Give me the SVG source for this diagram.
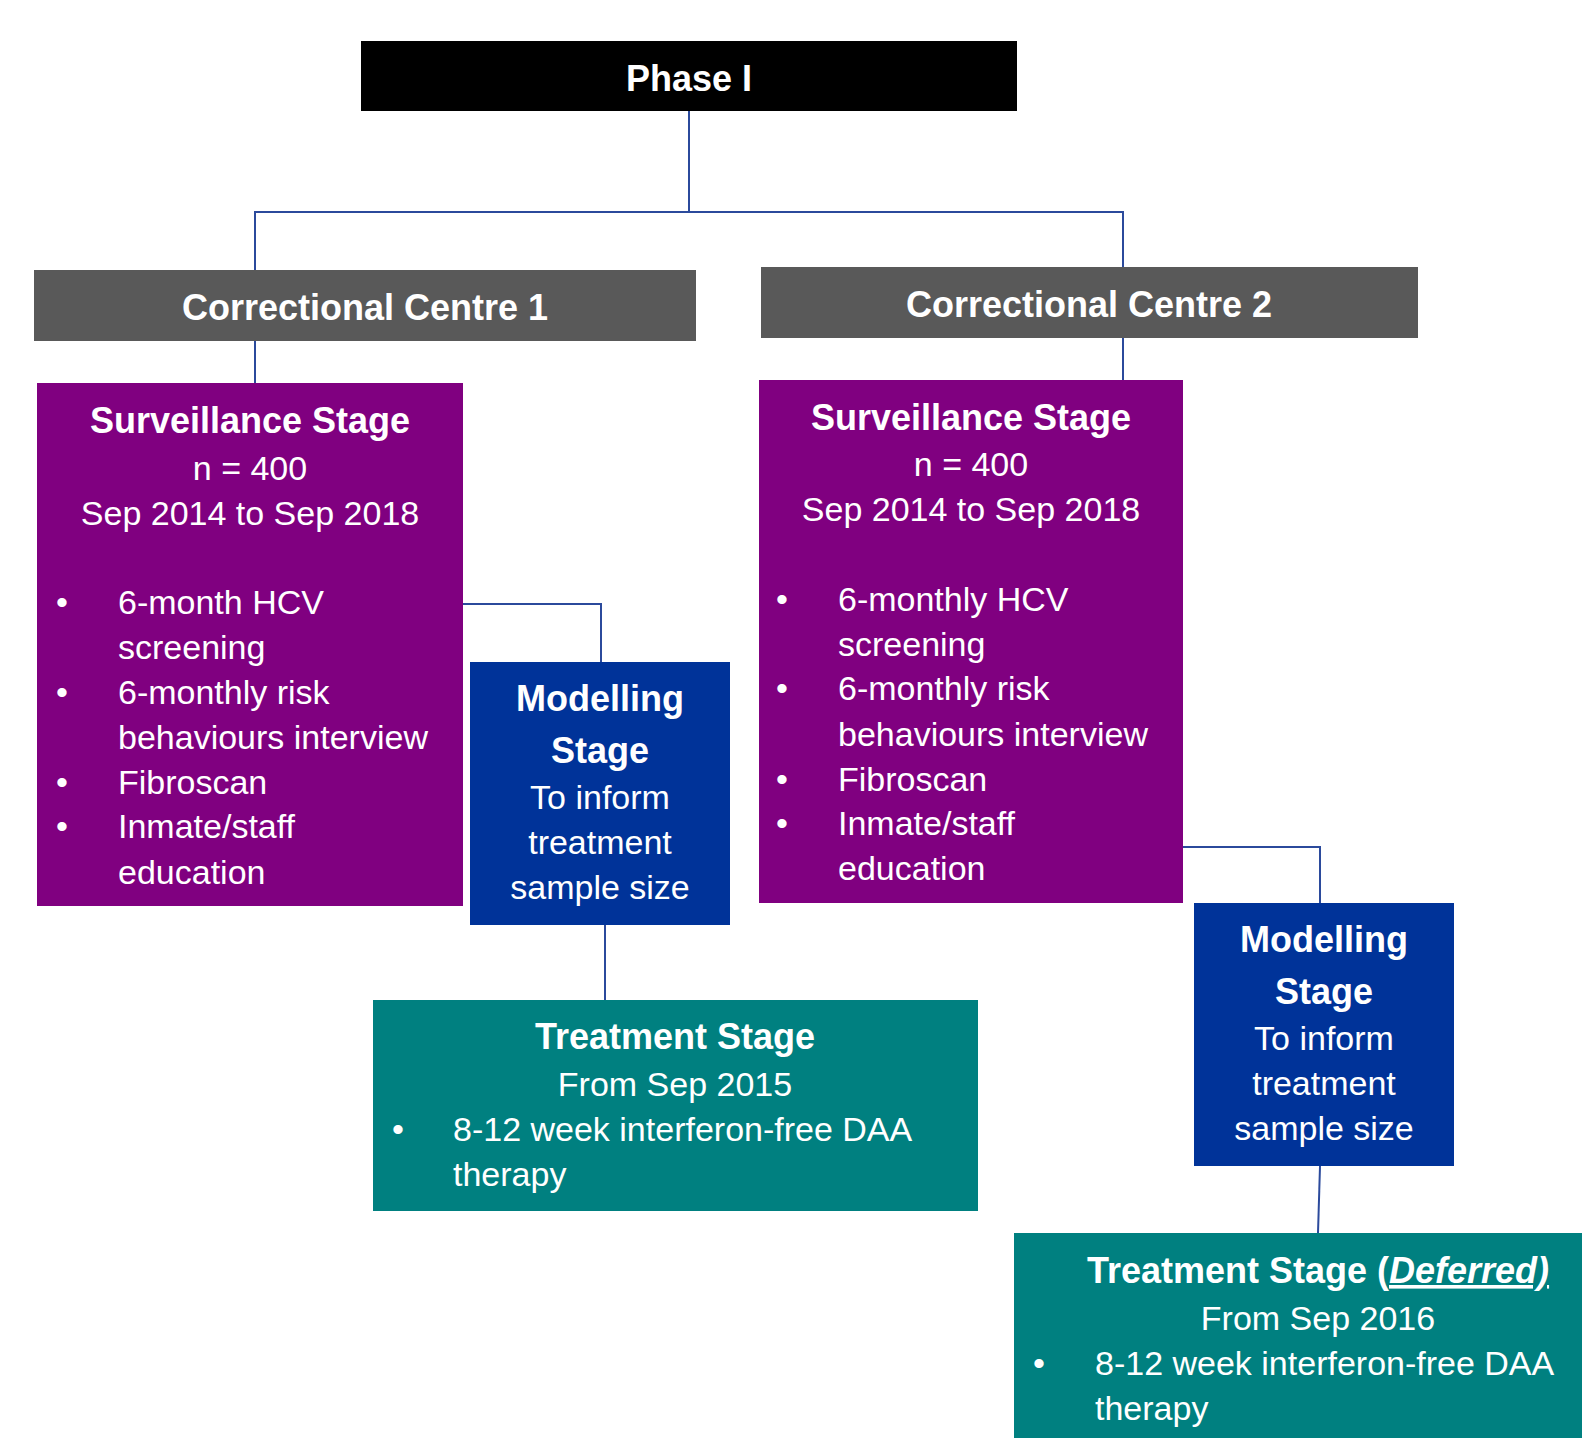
<svg xmlns="http://www.w3.org/2000/svg" width="1582" height="1438" viewBox="0 0 1582 1438">
<style>
text{font-family:"Liberation Sans",Arial,sans-serif;fill:#ffffff;}
.t{font-size:36px;font-weight:bold;}
.b{font-size:34px;}
.c{text-anchor:middle;}
.conn{fill:none;stroke:#2b4a9c;stroke-width:2;}
</style>
<rect width="1582" height="1438" fill="#ffffff"/>
<g id="connectors">
<path class="conn" d="M689 111 V212 M255 270 V212 H1123 V267"/>
<path class="conn" d="M255 341 V383"/>
<path class="conn" d="M1123 338 V380"/>
<path class="conn" d="M463 604 H601 V662"/>
<path class="conn" d="M605 925 V1000"/>
<path class="conn" d="M1183 847 H1320 V903"/>
<path class="conn" d="M1320 1166 L1318 1233"/>
</g>
<g id="phase1">
<rect x="361" y="41" width="656" height="70" fill="#000000"/>
<text class="t c" x="689" y="91">Phase I</text>
</g>
<g id="centre1">
<rect x="34" y="270" width="662" height="71" fill="#595959"/>
<text class="t c" x="365" y="320">Correctional Centre 1</text>
</g>
<g id="centre2">
<rect x="761" y="267" width="657" height="71" fill="#595959"/>
<text class="t c" x="1089" y="317">Correctional Centre 2</text>
</g>
<g id="surveillance1">
<rect x="37" y="383" width="426" height="523" fill="#800080"/>
<text class="t c" x="250" y="433">Surveillance Stage</text>
<text class="b c" x="250" y="480">n = 400</text>
<text class="b c" x="250" y="525">Sep 2014 to Sep 2018</text>
<text class="b" x="56" y="614">•</text>
<text class="b" x="118" y="614">6-month HCV</text>
<text class="b" x="118" y="659">screening</text>
<text class="b" x="56" y="704">•</text>
<text class="b" x="118" y="704">6-monthly risk</text>
<text class="b" x="118" y="749">behaviours interview</text>
<text class="b" x="56" y="794">•</text>
<text class="b" x="118" y="794">Fibroscan</text>
<text class="b" x="56" y="838">•</text>
<text class="b" x="118" y="838">Inmate/staff</text>
<text class="b" x="118" y="884">education</text>
</g>
<g id="surveillance2">
<rect x="759" y="380" width="424" height="523" fill="#800080"/>
<text class="t c" x="971" y="430">Surveillance Stage</text>
<text class="b c" x="971" y="476">n = 400</text>
<text class="b c" x="971" y="521">Sep 2014 to Sep 2018</text>
<text class="b" x="776" y="611">•</text>
<text class="b" x="838" y="611">6-monthly HCV</text>
<text class="b" x="838" y="656">screening</text>
<text class="b" x="776" y="700">•</text>
<text class="b" x="838" y="700">6-monthly risk</text>
<text class="b" x="838" y="746">behaviours interview</text>
<text class="b" x="776" y="791">•</text>
<text class="b" x="838" y="791">Fibroscan</text>
<text class="b" x="776" y="835">•</text>
<text class="b" x="838" y="835">Inmate/staff</text>
<text class="b" x="838" y="880">education</text>
</g>
<g id="modelling1">
<rect x="470" y="662" width="260" height="263" fill="#003399"/>
<text class="t c" x="600" y="711">Modelling</text>
<text class="t c" x="600" y="763">Stage</text>
<text class="b c" x="600" y="809">To inform</text>
<text class="b c" x="600" y="854">treatment</text>
<text class="b c" x="600" y="899">sample size</text>
</g>
<g id="modelling2">
<rect x="1194" y="903" width="260" height="263" fill="#003399"/>
<text class="t c" x="1324" y="952">Modelling</text>
<text class="t c" x="1324" y="1004">Stage</text>
<text class="b c" x="1324" y="1050">To inform</text>
<text class="b c" x="1324" y="1095">treatment</text>
<text class="b c" x="1324" y="1140">sample size</text>
</g>
<g id="treatment1">
<rect x="373" y="1000" width="605" height="211" fill="#008080"/>
<text class="t c" x="675" y="1049">Treatment Stage</text>
<text class="b c" x="675" y="1096">From Sep 2015</text>
<text class="b" x="392" y="1141">•</text>
<text class="b" x="453" y="1141">8-12 week interferon-free DAA</text>
<text class="b" x="453" y="1186">therapy</text>
</g>
<g id="treatment2">
<rect x="1014" y="1233" width="620" height="220" fill="#008080"/>
<text class="t c" x="1318" y="1283">Treatment Stage (<tspan font-style="italic" text-decoration="underline">Deferred)</tspan></text>
<text class="b c" x="1318" y="1330">From Sep 2016</text>
<text class="b" x="1033" y="1375">•</text>
<text class="b" x="1095" y="1375">8-12 week interferon-free DAA</text>
<text class="b" x="1095" y="1420">therapy</text>
</g>
</svg>
